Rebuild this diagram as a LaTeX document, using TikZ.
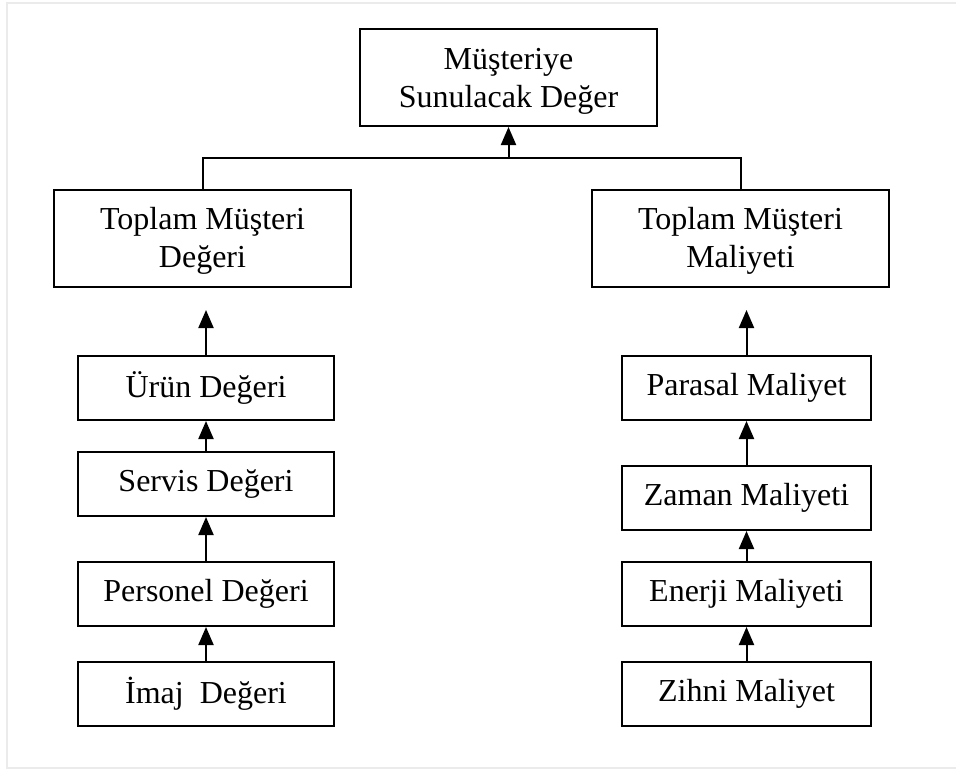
\documentclass[tikz,border=0pt]{standalone}
\usepackage{fontspec}
\setmainfont{Liberation Serif}
\usetikzlibrary{arrows.meta}

% taller first line in the two-line boxes, so their text sits a little lower
\newcommand{\firstlinestrut}{\rule{0pt}{28pt}}

\tikzset{
  box/.style={draw=black, line width=2pt, fill=white, inner sep=0pt,
    align=center, font=\fontsize{32}{38}\selectfont},
  bigbox/.style={box, minimum width=297pt, minimum height=97pt},
  leftbox/.style={box, minimum width=256pt, minimum height=64pt},
  rightbox/.style={box, minimum width=249pt, minimum height=64pt},
  link/.style={line width=2pt, draw=black},
  uparrow/.style={link, -{Triangle[length=18pt, width=15pt]}},
  frameline/.style={draw=black!8, line width=2pt}
}

\begin{document}
\begin{tikzpicture}[x=1pt, y=-1pt]
  \useasboundingbox (0,0) rectangle (956,769);

  % light page frame
  \coordinate (f1) at (970,3);
  \coordinate (f2) at (7,3);
  \coordinate (f3) at (7,768);
  \coordinate (f4) at (970,768);
  \draw[frameline] (f1) -- (f2) -- (f3) -- (f4);

  % top
  \node[bigbox] (deger) at (508.5,77.5) {\firstlinestrut Müşteriye\\Sunulacak Değer};

  % second level
  \node[bigbox] (tmd) at (202.5,238) {\firstlinestrut Toplam Müşteri\\Değeri};
  \node[bigbox] (tmm) at (740.5,238) {\firstlinestrut Toplam Müşteri\\Maliyeti};

  % value chain
  \node[leftbox] (urun)     at (206,388) {Ürün Değeri};
  \node[leftbox] (servis)   at (206,484) {Servis Değeri};
  \node[leftbox] (personel) at (206,594) {Personel Değeri};
  \node[leftbox] (imaj)     at (206,694) {İmaj\ \ Değeri};

  % cost chain
  \node[rightbox] (parasal) at (746.5,388) {Parasal Maliyet};
  \node[rightbox] (zaman)   at (746.5,498) {Zaman Maliyeti};
  \node[rightbox] (enerji)  at (746.5,594) {Enerji Maliyeti};
  \node[rightbox] (zihni)   at (746.5,694) {Zihni Maliyet};

  % junction above the second level
  \coordinate (j) at (508.5,157.5);
  \draw[link] (tmd.north) |- (j) -| (tmm.north);
  \draw[uparrow] (j) -- (deger.south);

  % arrows into the second level stop short of the boxes
  \coordinate (tl) at (206,310);
  \coordinate (tr) at (746.5,310);
  \draw[uparrow] (urun.north) -- (tl);
  \draw[uparrow] (parasal.north) -- (tr);

  \draw[uparrow] (servis.north) -- (urun.south);
  \draw[uparrow] (personel.north) -- (servis.south);
  \draw[uparrow] (imaj.north) -- (personel.south);

  \draw[uparrow] (zaman.north) -- (parasal.south);
  \draw[uparrow] (enerji.north) -- (zaman.south);
  \draw[uparrow] (zihni.north) -- (enerji.south);
\end{tikzpicture}
\end{document}
